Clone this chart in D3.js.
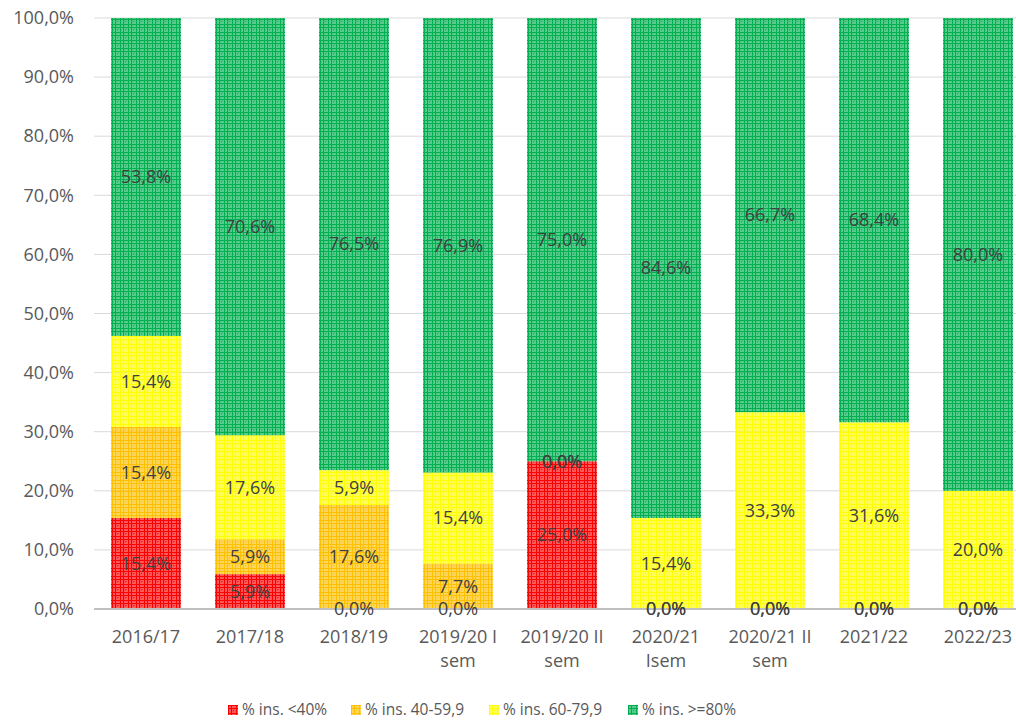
<!DOCTYPE html>
<html>
<head>
<meta charset="utf-8">
<title>Stacked bars</title>
<script src="https://cdn.jsdelivr.net/npm/d3@7"></script>
<style>
    body { margin: 0; background: #fff; }
    text { font-family: 'Open Sans', 'Liberation Sans', sans-serif; }
    .tick text { fill: #595959; font-size: 18px; }
    .lbl { fill: #404040; font-size: 18px; text-anchor: middle; }
    .leg text { fill: #595959; font-size: 15.5px; }
</style>
</head>
<body>
<script>

var categories = ["2016/17", "2017/18", "2018/19", "2019/20 I\nsem", "2019/20 II\nsem",
                  "2020/21\nIsem", "2020/21 II\nsem", "2021/22", "2022/23"];
var seriesNames = ["% ins. <40%", "% ins. 40-59,9", "% ins. 60-79,9", "% ins. >=80%"];
var red    = [15.4, 5.9, 0.0, 0.0, 25.0, 0.0, 0.0, 0.0, 0.0];
var orange = [15.4, 5.9, 17.6, 7.7, 0.0, 0.0, 0.0, 0.0, 0.0];
var yellow = [15.4, 17.6, 5.9, 15.4, 0.0, 15.4, 33.3, 31.6, 20.0];
var green  = [53.8, 70.6, 76.5, 76.9, 75.0, 84.6, 66.7, 68.4, 80.0];
var yTicks = [0, 10, 20, 30, 40, 50, 60, 70, 80, 90, 100];

var colors = ["#ff0000", "#ffc000", "#ffff00", "#00b050"];
var series = [red, orange, yellow, green];

var width = 1016, height = 720;

var svg = d3.select("body").append("svg")
    .attr("width", width)
    .attr("height", height);

// excel-like small grid pattern
var defs = svg.append("defs");
colors.forEach(function(c, i) {
    var p = defs.append("pattern")
        .attr("id", "pat" + i)
        .attr("width", 8).attr("height", 8)
        .attr("patternUnits", "userSpaceOnUse");
    p.append("rect").attr("width", 8).attr("height", 8).attr("fill", c).attr("opacity", 0.66);
    p.append("rect").attr("x", 0).attr("width", 1).attr("height", 8).attr("fill", c);
    p.append("rect").attr("x", 3).attr("width", 1).attr("height", 8).attr("fill", c);
    p.append("rect").attr("y", 0).attr("width", 8).attr("height", 1).attr("fill", c);
    p.append("rect").attr("y", 3).attr("width", 8).attr("height", 1).attr("fill", c);
    p.append("rect").attr("x", 5).attr("y", 5).attr("width", 1).attr("height", 1).attr("fill", c);
});

var x = d3.scaleBand()
    .domain(categories)
    .range([94, 1030])
    .paddingInner(0.327)
    .paddingOuter(0.1635);

var y = d3.scaleLinear()
    .domain([0, 100])
    .range([609, 18]);

var fmt = d3.formatLocale({decimal: ",", thousands: ".", grouping: [3], currency: ["", "€"]}).format(".1f");

// grid
svg.append("g")
    .selectAll("line")
    .data(yTicks.filter(function(d) { return d > 0; }))
    .enter().append("line")
    .attr("x1", 94).attr("x2", width)
    .attr("y1", function(d) { return y(d); })
    .attr("y2", function(d) { return y(d); })
    .attr("stroke", "#d9d9d9")
    .attr("stroke-width", 1);

var yAxis = svg.append("g")
    .attr("transform", "translate(80,0)")
    .call(d3.axisLeft(y).tickValues(yTicks).tickSize(0).tickPadding(6)
        .tickFormat(function(d) { return fmt(d) + "%"; }));
yAxis.select(".domain").remove();

// stacked data
var table = categories.map(function(c, i) {
    return {cat: c, s0: red[i], s1: orange[i], s2: yellow[i], s3: green[i]};
});
var stack = d3.stack().keys(["s0", "s1", "s2", "s3"])(table);

var layers = svg.append("g").selectAll("g")
    .data(stack)
    .enter().append("g")
    .attr("fill", function(d, i) { return "url(#pat" + i + ")"; });

layers.selectAll("rect")
    .data(function(d) { return d; })
    .enter().append("rect")
    .attr("x", function(d) { return x(d.data.cat); })
    .attr("width", x.bandwidth())
    .attr("y", function(d) { return y(d[1]); })
    .attr("height", function(d) { return y(d[0]) - y(d[1]); });

// baseline
svg.append("line")
    .attr("x1", 94).attr("x2", width)
    .attr("y1", y(0)).attr("y2", y(0))
    .attr("stroke", "#bfbfbf")
    .attr("stroke-width", 2);

// data labels
stack.forEach(function(layer, k) {
    svg.append("g").selectAll("text")
        .data(layer)
        .enter().append("text")
        .attr("class", "lbl")
        .attr("x", function(d) { return x(d.data.cat) + x.bandwidth() / 2; })
        .attr("y", function(d) { return y((d[0] + d[1]) / 2); })
        .attr("dy", "0.35em")
        .text(function(d, i) { return fmt(series[k][i]) + "%"; });
});

// category labels
var xl = svg.append("g").selectAll("text")
    .data(categories)
    .enter().append("text")
    .attr("text-anchor", "middle")
    .attr("fill", "#595959")
    .style("font-size", "18px")
    .attr("x", function(d) { return x(d) + x.bandwidth() / 2; })
    .attr("y", 643);
xl.selectAll("tspan")
    .data(function(d) { return d.split("\n"); })
    .enter().append("tspan")
    .attr("x", function() { return d3.select(this.parentNode).attr("x"); })
    .attr("dy", function(d, i) { return i ? 24 : 0; })
    .text(function(d) { return d; });

// legend
var legX = [228, 351, 489, 628];
var leg = svg.append("g").attr("class", "leg")
    .selectAll("g")
    .data(seriesNames)
    .enter().append("g")
    .attr("transform", function(d, i) { return "translate(" + legX[i] + ",705)"; });
leg.append("rect")
    .attr("width", 10).attr("height", 10)
    .attr("fill", function(d, i) { return "url(#pat" + i + ")"; });
leg.append("text")
    .attr("x", 14).attr("y", 5).attr("dy", "0.35em")
    .text(function(d) { return d; });

</script>
</body>
</html>
